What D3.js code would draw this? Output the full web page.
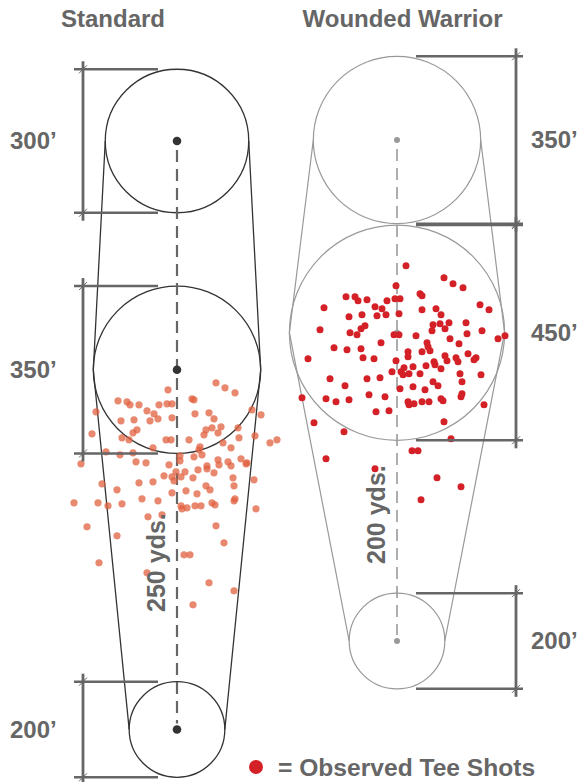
<!DOCTYPE html>
<html><head><meta charset="utf-8">
<script src="https://cdn.jsdelivr.net/npm/d3@7"></script>
<style>
body{margin:0;background:#fff}
svg{display:block}
text{font-family:"Liberation Sans",Arial,Helvetica,sans-serif;font-weight:bold;fill:#666}
</style>
</head><body>
<svg id="chart" width="582" height="782"></svg>
<script>
// ---------- data ----------
const panelTitles = ["Standard", "Wounded Warrior"];
// target circle diameters (ft), from far to near
const stdDiameters = [300, 350, 200];
const wwDiameters  = [350, 450, 200];
// distance of each circle centre along the hole (yds, 0 = nearest circle)
const stdDistances = [409, 250, 0];
const wwDistances  = [325, 200, 0];
const yardLabels = ["250 yds.", "200 yds."];
const legendLabel = "= Observed Tee Shots";
// observed tee shots: [lateral offset, offset short(+)/long(-)] from the landing-zone centre
const stdShots = [[39,13],[48,18],[58,23],[-9,20],[15,29],[17,30],[-59,31],[-50,32],[-47,35],[-38,35],[-18,35],[-10,34],[-5,34],[-30,41],[-23,44],[-81,42],[18,44],[32,43],[37,49],[75,40],[84,45],[-5,48],[-43,50],[-56,51],[-27,51],[-19,49],[-85,64],[-44,63],[-40,60],[-55,68],[-48,70],[-11,70],[-6,70],[12,70],[29,60],[35,58],[44,57],[41,63],[27,65],[61,58],[62,68],[78,66],[93,73],[100,70],[46,73],[54,78],[23,77],[22,80],[25,85],[17,87],[3,86],[3,91],[-24,78],[-71,82],[-57,85],[-44,83],[-96,94],[-41,92],[-31,93],[-8,95],[41,90],[51,92],[54,96],[64,89],[70,93],[69,94],[42,95],[30,96],[30,99],[21,100],[37,103],[8,102],[-1,102],[-5,107],[-3,111],[4,107],[16,108],[-13,106],[-24,112],[-38,113],[-75,114],[-60,120],[56,108],[57,116],[77,110],[29,116],[33,120],[9,121],[-5,123],[-103,133],[-79,133],[-69,136],[-55,134],[-35,129],[-19,131],[20,124],[4,136],[5,139],[10,138],[18,136],[24,136],[35,133],[38,135],[57,131],[58,129],[79,139],[-29,147],[-15,145],[-90,157],[-60,166],[39,156],[47,173],[7,185],[13,185],[-78,193],[-30,203],[32,213],[57,221],[16,235]];
const wwShots = [[9,-67],[47,-55],[56,-49],[66,-45],[-1,-47],[-51,-36],[-42,-36],[-39,-32],[-30,-33],[-10,-32],[-2,-34],[3,-34],[23,-39],[25,-37],[-73,-25],[-22,-26],[-15,-24],[-11,-18],[-20,-17],[-35,-18],[-48,-16],[2,-19],[25,-23],[39,-24],[44,-18],[83,-28],[92,-23],[-77,-3],[-32,-7],[-36,-4],[-47,0],[-40,2],[-3,2],[2,2],[19,3],[36,-8],[35,-2],[43,-9],[48,-4],[52,-10],[69,-10],[70,1],[85,-2],[101,6],[108,3],[53,6],[62,11],[30,10],[31,14],[33,18],[25,19],[-16,10],[-63,15],[-50,17],[-36,16],[-89,26],[-34,25],[-23,26],[11,19],[11,24],[-1,28],[48,23],[50,28],[59,25],[61,29],[71,21],[77,27],[79,25],[29,33],[37,29],[38,32],[44,36],[16,34],[7,35],[4,39],[6,42],[-5,39],[12,41],[23,41],[63,41],[84,42],[-67,46],[-30,46],[-17,45],[36,49],[41,53],[65,49],[-52,53],[16,54],[28,57],[3,56],[65,61],[64,64],[44,66],[46,68],[25,69],[32,69],[11,69],[12,72],[17,71],[-12,64],[-28,62],[-71,66],[-61,69],[-48,67],[-21,79],[-8,78],[-95,65],[-83,90],[-53,99],[47,89],[54,106],[87,72],[15,118],[21,118],[-71,126],[-22,136],[40,145],[64,154],[24,167]];

// ---------- layout ----------
const svg = d3.select("#chart");
// circle diameter (ft) -> drawn radius (px)
const rScale = d3.scaleLinear().domain([0, 450]).range([0, 107.6]);

const panels = [
  {title: panelTitles[0], titleX: 113, cx: 177, diameters: stdDiameters, distances: stdDistances,
   y: d3.scaleLinear().domain([0, 409]).range([729.5, 141]),
   shots: stdShots, yardLabel: yardLabels[0], yardLabelAt: 116,
   stroke: "#333", strokeW: 1.3, dashStroke: "#666", dashW: 2.2, pinR: 4.3, pinFill: "#333",
   shotFill: "#e0603f", shotOpacity: 0.75, shotR: 3.6,
   dimX: 83, side: "left", labelX: 10},
  {title: panelTitles[1], titleX: 402.5, cx: 397, diameters: wwDiameters, distances: wwDistances,
   y: d3.scaleLinear().domain([0, 325]).range([641, 140]),
   shots: wwShots, yardLabel: yardLabels[1], yardLabelAt: 82,
   stroke: "#999", strokeW: 1.2, dashStroke: "#999", dashW: 1.6, pinR: 3, pinFill: "#999",
   shotFill: "#d42027", shotOpacity: 1, shotR: 3.5,
   dimX: 516, side: "right", labelX: 531}
];

panels.forEach(p => {
  const g = svg.append("g");
  const circles = p.diameters.map((d, i) => ({d, r: rScale(d), cy: p.y(p.distances[i])}));

  // title
  g.append("text").attr("x", p.titleX).attr("y", 27).attr("text-anchor", "middle")
    .style("font-size", "24px").text(p.title);

  // side outline lines
  const line = d3.line();
  g.append("path").attr("d", line(circles.map(c => [p.cx - c.r, c.cy])))
    .attr("fill", "none").attr("stroke", p.stroke).attr("stroke-width", p.strokeW);
  g.append("path").attr("d", line(circles.map(c => [p.cx + c.r, c.cy])))
    .attr("fill", "none").attr("stroke", p.stroke).attr("stroke-width", p.strokeW);

  // circles
  g.selectAll("circle.target").data(circles).join("circle").attr("class", "target")
    .attr("cx", p.cx).attr("cy", c => c.cy).attr("r", c => c.r)
    .attr("fill", "none").attr("stroke", p.stroke).attr("stroke-width", p.strokeW);

  // dashed centre line
  g.append("line").attr("x1", p.cx).attr("x2", p.cx)
    .attr("y1", circles[0].cy + 9).attr("y2", circles[2].cy - 6)
    .attr("stroke", p.dashStroke).attr("stroke-width", p.dashW).attr("stroke-dasharray", "12,7");

  // centre pins
  g.selectAll("circle.pin").data(circles).join("circle").attr("class", "pin")
    .attr("cx", p.cx).attr("cy", c => c.cy).attr("r", p.pinR).attr("fill", p.pinFill);

  // shots
  const tcy = circles[1].cy;
  const sx = d3.scaleLinear().domain([-100, 100]).range([p.cx - 100, p.cx + 100]);
  const sy = d3.scaleLinear().domain([-100, 100]).range([tcy - 100, tcy + 100]);
  g.selectAll("circle.shot").data(p.shots).join("circle").attr("class", "shot")
    .attr("cx", d => sx(d[0])).attr("cy", d => sy(d[1])).attr("r", p.shotR)
    .attr("fill", p.shotFill).attr("fill-opacity", p.shotOpacity);

  // yard label
  const ly = p.y(p.yardLabelAt);
  g.append("text").attr("transform", `translate(${p.cx - 12},${ly}) rotate(-90)`)
    .attr("text-anchor", "middle").style("font-size", "25px").text(p.yardLabel);

  // dimension lines
  circles.forEach(c => {
    const top = c.cy - c.r, bot = c.cy + c.r;
    const hx1 = p.side === "left" ? p.dimX - 9 : p.cx + 19;
    const hx2 = p.side === "left" ? p.cx - 19 : p.dimX + 7;
    [top, bot].forEach(yy => {
      g.append("line").attr("x1", hx1).attr("x2", hx2).attr("y1", yy).attr("y2", yy)
        .attr("stroke", "#666").attr("stroke-width", 2.5);
      g.append("line").attr("x1", p.dimX - 4).attr("x2", p.dimX + 4).attr("y1", yy + 4).attr("y2", yy - 4)
        .attr("stroke", "#666").attr("stroke-width", 1);
    });
    g.append("line").attr("x1", p.dimX).attr("x2", p.dimX).attr("y1", top - 8).attr("y2", bot + 8)
      .attr("stroke", "#666").attr("stroke-width", 2.8);
    g.append("text").attr("x", p.labelX).attr("y", c.cy + 8).style("font-size", "24px")
      .text(`${c.d}\u2019`);
  });
});

// legend
const lg = svg.append("g");
lg.append("circle").attr("cx", 256).attr("cy", 767).attr("r", 7).attr("fill", "#d42027");
lg.append("text").attr("x", 278).attr("y", 776).style("font-size", "24.6px").text(legendLabel);
</script>
</body></html>
